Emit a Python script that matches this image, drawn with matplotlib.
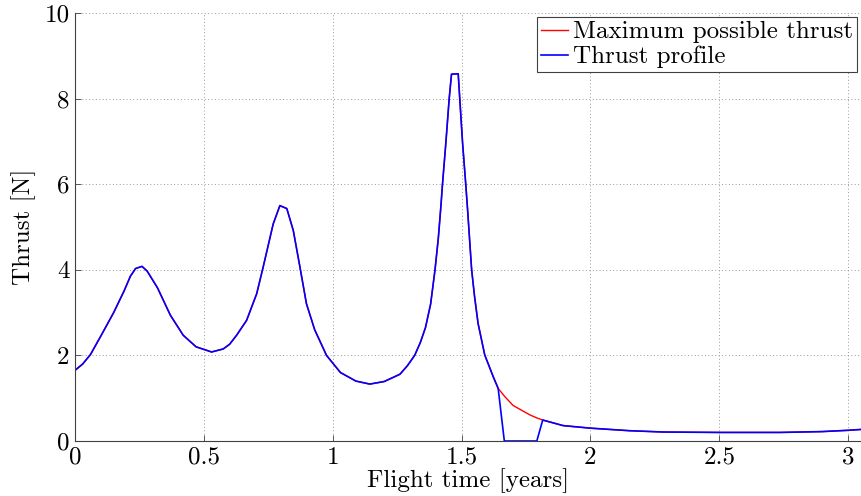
"""
Thrust profile vs. maximum possible thrust over the flight.
"""

import matplotlib
matplotlib.use("Agg")
import matplotlib.pyplot as plt

# flight time [years]
time_years = [0.0, 0.03, 0.06, 0.1, 0.15, 0.19, 0.215, 0.235, 0.26, 0.28,
              0.32, 0.37, 0.42, 0.47, 0.53, 0.575, 0.6, 0.627, 0.666, 0.705,
              0.73, 0.769, 0.795, 0.822, 0.847, 0.873, 0.898, 0.93, 0.976, 1.03,
              1.09, 1.144, 1.2, 1.261, 1.29, 1.318, 1.34, 1.36, 1.38, 1.397,
              1.41, 1.42, 1.426, 1.439, 1.452, 1.461, 1.487, 1.493, 1.504, 1.516,
              1.523, 1.539, 1.55, 1.564, 1.59, 1.623, 1.642, 1.666, 1.70, 1.765,
              1.792, 1.815, 1.894, 2.0, 2.153, 2.282, 2.5, 2.735, 2.9, 3.0,
              3.05]

max_thrust = [1.65, 1.8, 2.02, 2.45, 3.0, 3.5, 3.85, 4.03, 4.08, 3.97,
              3.58, 2.94, 2.47, 2.2, 2.08, 2.15, 2.26, 2.47, 2.82, 3.44,
              4.06, 5.07, 5.5, 5.43, 4.92, 4.06, 3.21, 2.6, 2.0, 1.6,
              1.4, 1.33, 1.39, 1.56, 1.76, 2.0, 2.3, 2.65, 3.2, 4.0,
              4.75, 5.5, 6.0, 6.96, 8.0, 8.57, 8.58, 8.0, 6.96, 6.02,
              5.44, 4.01, 3.4, 2.75, 2.01, 1.5, 1.23, 1.05, 0.83, 0.61,
              0.54, 0.49, 0.36, 0.30, 0.24, 0.21, 0.20, 0.20, 0.22, 0.25,
              0.27]

thrust_profile = [1.65, 1.8, 2.02, 2.45, 3.0, 3.5, 3.85, 4.03, 4.08, 3.97,
                  3.58, 2.94, 2.47, 2.2, 2.08, 2.15, 2.26, 2.47, 2.82, 3.44,
                  4.06, 5.07, 5.5, 5.43, 4.92, 4.06, 3.21, 2.6, 2.0, 1.6,
                  1.4, 1.33, 1.39, 1.56, 1.76, 2.0, 2.3, 2.65, 3.2, 4.0,
                  4.75, 5.5, 6.0, 6.96, 8.0, 8.57, 8.58, 8.0, 6.96, 6.02,
                  5.44, 4.01, 3.4, 2.75, 2.01, 1.5, 1.23, 0.0, 0.0, 0.0,
                  0.0, 0.49, 0.36, 0.30, 0.24, 0.21, 0.20, 0.20, 0.22, 0.25,
                  0.27]

x_ticks = [0, 0.5, 1, 1.5, 2, 2.5, 3]
x_tick_labels = ["0", "0.5", "1", "1.5", "2", "2.5", "3"]
y_ticks = [0, 2, 4, 6, 8, 10]
y_tick_labels = ["0", "2", "4", "6", "8", "10"]

plt.rcParams["font.family"] = "cmr10"
plt.rcParams["axes.formatter.use_mathtext"] = True
plt.rcParams["font.size"] = 18

fig = plt.figure(figsize=(8.61, 4.96), dpi=100)
ax = fig.add_axes([75 / 861, 1 - 441 / 496, 786 / 861, 428 / 496])

ax.plot(time_years, max_thrust, color="red", lw=1.0, label="Maximum possible thrust")
ax.plot(time_years, thrust_profile, color="blue", lw=1.2, label="Thrust profile")

ax.set_xlim(0, 3.05)
ax.set_ylim(0, 10)
ax.set_xticks(x_ticks)
ax.set_xticklabels(x_tick_labels)
ax.set_yticks(y_ticks)
ax.set_yticklabels(y_tick_labels)
ax.tick_params(direction="in", length=4, width=0.6, color="#404040", pad=4)

ax.grid(True, linestyle=(0, (1, 2.5)), color="#999999", lw=0.7)
for side in ["top", "right"]:
    ax.spines[side].set_visible(False)
for side in ["left", "bottom"]:
    ax.spines[side].set_color("#404040")
    ax.spines[side].set_linewidth(0.8)

ax.set_xlabel("Flight time [years]", labelpad=0)
ax.set_ylabel("Thrust [N]", labelpad=6)

leg = ax.legend(loc="upper left", bbox_to_anchor=(537 / 861, 1 - 17 / 496),
                bbox_transform=fig.transFigure, fancybox=False, framealpha=1,
                edgecolor="#404040", handlelength=1.1, handletextpad=0.2,
                borderpad=0.15, labelspacing=0.1, borderaxespad=0)
leg.get_frame().set_linewidth(0.8)

fig.savefig("out.png", dpi=100)
